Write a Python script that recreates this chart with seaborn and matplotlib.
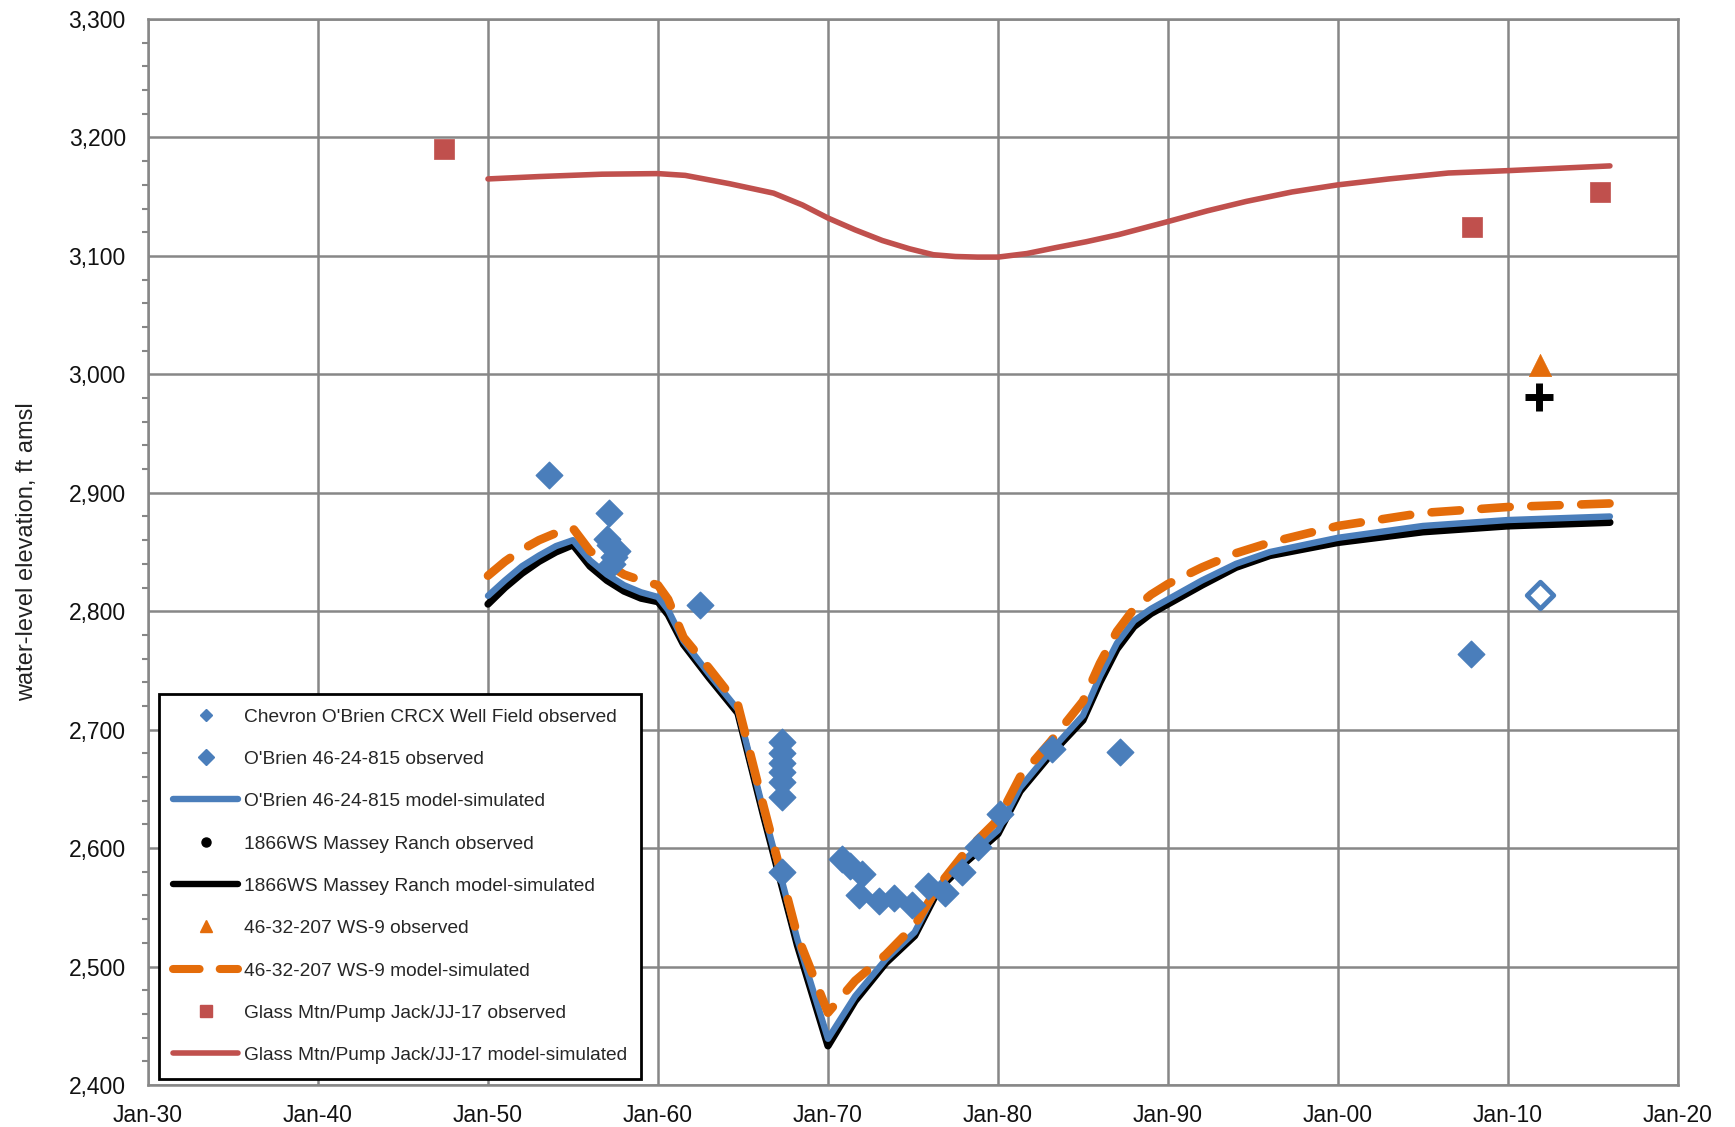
import matplotlib
matplotlib.use("Agg")
import matplotlib.pyplot as plt
import seaborn as sns
from matplotlib.lines import Line2D
from matplotlib.ticker import FuncFormatter, MultipleLocator

# simulated water levels (ft amsl) on a shared time axis (decimal years)
sim_years = [1950, 1951, 1952, 1953, 1954, 1955, 1956, 1957, 1958, 1959, 1960, 1960.6,
             1961.5, 1963, 1964.7, 1966.2, 1968.2, 1970, 1971.6, 1973.4, 1975.1, 1976.5,
             1978.1, 1980, 1981.3, 1983.1, 1985, 1986, 1987, 1988, 1989, 1990, 1992,
             1994, 1996, 2000, 2005, 2010, 2016]
massey_sim = [2806, 2820, 2832, 2842, 2850, 2856, 2838, 2826, 2817, 2811, 2808, 2797,
              2772, 2744, 2714, 2628, 2518, 2433, 2471, 2503, 2526, 2565,
              2588, 2612, 2648, 2679, 2708, 2740, 2768, 2787, 2798, 2806, 2822,
              2837, 2847, 2858, 2867, 2872, 2875]
obrien_sim = [2813, 2826, 2838, 2847, 2855, 2860, 2843, 2831, 2822, 2816, 2812, 2801,
              2775, 2747, 2717, 2632, 2523, 2439, 2475, 2506, 2529, 2568,
              2591, 2615, 2651, 2682, 2712, 2745, 2773, 2792, 2802, 2810, 2826,
              2840, 2850, 2862, 2872, 2877, 2880]
ws9_sim = [2830, 2842, 2852, 2860, 2866, 2870, 2851, 2840, 2831, 2826, 2822, 2810,
           2778, 2752, 2721, 2636, 2526, 2461, 2488, 2510, 2535, 2568,
           2597, 2624, 2660, 2690, 2724, 2756, 2783, 2802, 2814, 2823, 2837,
           2849, 2858, 2872, 2883, 2888, 2891]

glass_years = [1950, 1953, 1956.7, 1960, 1961.6, 1964.2, 1966.8, 1968.5, 1970, 1971.6, 1973.2,
               1974.8, 1976.2, 1977.5, 1978.8, 1980, 1981.7, 1983.4, 1985.2, 1987.1, 1990,
               1992.3, 1994.6, 1997.3, 2000, 2003, 2006.5, 2010, 2013, 2016]
glass_sim = [3165, 3167, 3169, 3169.5, 3168, 3161, 3153, 3143, 3132, 3122, 3113,
             3106, 3101, 3099.5, 3099, 3099, 3102, 3107, 3112, 3118, 3129,
             3138, 3146, 3154, 3160, 3165, 3170, 3172, 3174, 3176]

# observed
chev_years = [1953.6, 1957.1, 1957.0, 1957.2, 1957.6, 1957.4, 1957.3, 1962.5,
              1967.3, 1967.3, 1967.3, 1967.3, 1967.3, 1967.3, 1967.3,
              1970.8, 1971.3, 1972.0, 1971.8, 1973.0, 1973.9, 1974.95, 1975.9, 1976.9,
              1977.9, 1978.8, 1980.1, 1983.2, 1987.2]
chev_obs = [2915, 2883, 2861, 2856, 2851, 2846, 2840, 2805,
            2690, 2680, 2672, 2664, 2656, 2643, 2580,
            2591, 2585, 2578, 2560, 2555, 2558, 2552, 2568, 2562,
            2580, 2601, 2629, 2684, 2681]
obrien_years = [2007.8]
obrien_obs = [2764]
obrien_open_years = [2011.9]
obrien_open_obs = [2814]
massey_years = [2011.8]
massey_obs = [2981]
ws9_years = [2011.9]
ws9_obs = [3008]
glass_obs_years = [1947.4, 2007.9, 2015.4]
glass_obs = [3190, 3124, 3154]

labels = ["Chevron O'Brien CRCX Well Field observed",
          "O'Brien 46-24-815 observed",
          "O'Brien 46-24-815 model-simulated",
          "1866WS Massey Ranch observed",
          "1866WS Massey Ranch model-simulated",
          "46-32-207 WS-9 observed",
          "46-32-207 WS-9 model-simulated",
          "Glass Mtn/Pump Jack/JJ-17 observed",
          "Glass Mtn/Pump Jack/JJ-17 model-simulated"]

BLUE = "#4a7ebb"
RED = "#c0504d"
ORANGE = "#e46c0a"
GRID = "#878787"
DASH = (0, (3.3, 2.5))

sns.set_theme(style="white")
plt.rcParams["font.family"] = ["Liberation Sans", "DejaVu Sans"]

fig = plt.figure(figsize=(17.35, 11.27), dpi=100)
ax = fig.add_axes([0.0853, 0.0373, 0.8818, 0.9458])

sns.lineplot(x=sim_years, y=massey_sim, color="black", lw=5.2, ax=ax,
             estimator=None, sort=False, solid_capstyle="round", solid_joinstyle="round", zorder=2)
sns.lineplot(x=sim_years, y=obrien_sim, color=BLUE, lw=4.6, ax=ax,
             estimator=None, sort=False, solid_capstyle="round", solid_joinstyle="round", zorder=2.1)
sns.lineplot(x=sim_years, y=ws9_sim, color=ORANGE, lw=6.2, ax=ax, linestyle=DASH,
             dash_capstyle="round", estimator=None, sort=False, zorder=2.2)
sns.lineplot(x=glass_years, y=glass_sim, color=RED, lw=4.0, ax=ax,
             estimator=None, sort=False, solid_capstyle="round", zorder=2.3)

sns.scatterplot(x=chev_years, y=chev_obs, marker="D", s=13.5 ** 2, color=BLUE,
                edgecolor=BLUE, linewidth=1, ax=ax, zorder=3)
sns.scatterplot(x=obrien_years, y=obrien_obs, marker="D", s=13.5 ** 2, color=BLUE,
                edgecolor=BLUE, linewidth=1, ax=ax, zorder=3)
sns.scatterplot(x=obrien_open_years, y=obrien_open_obs, marker="D", s=13.5 ** 2, color="white",
                edgecolor=BLUE, linewidth=3.5, ax=ax, zorder=3)
sns.scatterplot(x=massey_years, y=massey_obs, marker="+", s=20 ** 2, color="black",
                linewidth=5, ax=ax, zorder=3)
sns.scatterplot(x=ws9_years, y=ws9_obs, marker="^", s=16 ** 2, color=ORANGE,
                edgecolor=ORANGE, linewidth=0.5, ax=ax, zorder=3)
sns.scatterplot(x=glass_obs_years, y=glass_obs, marker="s", s=14 ** 2, color=RED,
                edgecolor=RED, linewidth=0.5, ax=ax, zorder=3)

ax.set_xlim(1930, 2020)
ax.set_ylim(2400, 3300)
ax.set_xticks(range(1930, 2021, 10))
ax.set_xticklabels([f"Jan-{y % 100:02d}" for y in range(1930, 2021, 10)])
ax.yaxis.set_major_locator(MultipleLocator(100))
ax.yaxis.set_minor_locator(MultipleLocator(20))
ax.yaxis.set_major_formatter(FuncFormatter(lambda v, p: f"{v:,.0f}"))

ax.grid(True, which="major", color=GRID, lw=1.8)
ax.set_axisbelow(True)
for sp in ax.spines.values():
    sp.set_color(GRID)
    sp.set_linewidth(1.8)
ax.tick_params(axis="both", which="major", direction="out", length=6, width=1.8,
               color=GRID, labelsize=16.5, labelcolor="#111111")
ax.tick_params(axis="y", which="major", pad=10)
ax.tick_params(axis="x", which="major", pad=8)
ax.tick_params(axis="y", which="minor", direction="out", length=4, width=1.5, color=GRID, left=True)
ax.set_xlabel("")
ax.set_ylabel("water-level elevation, ft amsl", fontsize=17, color="#222222", labelpad=22)

handles = [
    Line2D([], [], ls="none", marker="D", ms=6.5, color=BLUE),
    Line2D([], [], ls="none", marker="D", ms=8.5, color=BLUE),
    Line2D([], [], color=BLUE, lw=4.6, solid_capstyle="round"),
    Line2D([], [], ls="none", marker="o", ms=6.5, color="black"),
    Line2D([], [], color="black", lw=4.6, solid_capstyle="round"),
    Line2D([], [], ls="none", marker="^", ms=9, color=ORANGE),
    Line2D([], [], color=ORANGE, lw=5.8, ls=DASH, dash_capstyle="round"),
    Line2D([], [], ls="none", marker="s", ms=8.5, color=RED),
    Line2D([], [], color=RED, lw=4.0, solid_capstyle="round"),
]
leg = ax.legend(handles, labels, loc="lower left", bbox_to_anchor=(0.007, 0.006),
                borderaxespad=0, fontsize=13.8, frameon=True, fancybox=False,
                edgecolor="black", framealpha=1, handlelength=3.4, handletextpad=0.3,
                labelspacing=1.3, borderpad=0.75)
leg.get_frame().set_linewidth(2)
leg.set_zorder(5)

fig.savefig("out.png", dpi=100)
